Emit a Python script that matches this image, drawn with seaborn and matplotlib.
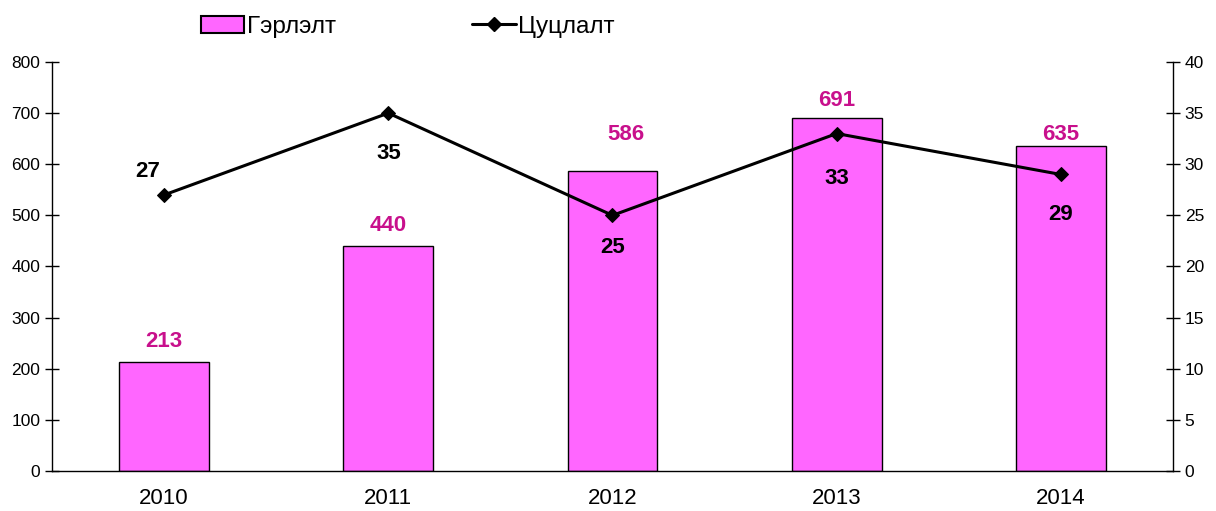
import numpy as np
import pandas as pd
import seaborn as sns
import matplotlib.pyplot as plt
from matplotlib.lines import Line2D
from matplotlib.patches import Patch

years = ['2010', '2011', '2012', '2013', '2014']
marriages = [213, 440, 586, 691, 635]   # Гэрлэлт
divorces = [27, 35, 25, 33, 29]         # Цуцлалт

# label offsets in points (dx, dy)
bar_off = [(0, 7), (0, 7), (10, 19), (0, 5), (0, 1)]
line_off = [(-12, 17), (0, -29), (0, -23), (0, -32), (0, -29)]

sns.set_style('white')
plt.rcParams['font.family'] = ['Liberation Sans', 'DejaVu Sans']
plt.rcParams['text.color'] = 'black'
plt.rcParams['xtick.color'] = 'black'
plt.rcParams['ytick.color'] = 'black'

df = pd.DataFrame({'year': years, 'marriages': marriages, 'divorces': divorces})

fig = plt.figure(figsize=(12.16, 5.11), dpi=100)
ax = fig.add_axes([0.0428, 0.0783, 0.9218, 0.8004])

sns.barplot(data=df, x='year', y='marriages', color='#FF66FF', saturation=1,
            edgecolor='black', linewidth=1, width=0.4, ax=ax)
ax.set_xlim(-0.5, 4.5)
ax.set_ylim(0, 800)
ax.set_yticks(range(0, 801, 100))
ax.set_xlabel('')
ax.set_ylabel('')
ax.tick_params(axis='x', length=0, labelsize=16, pad=12)
ax.set_xticks(np.arange(0.5, 4.5, 1), minor=True)
ax.tick_params(axis='x', which='minor', length=10, direction='inout', width=1)
ax.tick_params(axis='y', length=10, direction='inout', width=1, labelsize=12.5)
for s in ['top', 'right']:
    ax.spines[s].set_visible(False)
for s in ['left', 'bottom']:
    ax.spines[s].set_color('black')
    ax.spines[s].set_linewidth(1)

for i, v in enumerate(marriages):
    ax.annotate(str(v), (i, v), xytext=bar_off[i], textcoords='offset points',
                ha='center', va='bottom', color='#C8108C', fontsize=16, fontweight='bold')

ax2 = ax.twinx()
sns.lineplot(x=np.arange(len(years)), y=divorces, color='black', marker='D',
             markersize=7, markeredgecolor='black', linewidth=2.2, ax=ax2)
ax2.set_ylim(0, 40)
ax2.set_yticks(range(0, 41, 5))
ax2.tick_params(axis='y', length=10, direction='inout', width=1, labelsize=12.5)
for s in ['top', 'left', 'bottom']:
    ax2.spines[s].set_visible(False)
ax2.spines['right'].set_color('black')
ax2.spines['right'].set_linewidth(1)

for i, v in enumerate(divorces):
    ax2.annotate(str(v), (i, v), xytext=line_off[i], textcoords='offset points',
                 ha='center', va='center', color='black', fontsize=16, fontweight='bold')

handles = [Patch(facecolor='#FF66FF', edgecolor='black', linewidth=1.5),
           Line2D([0], [0], color='black', linewidth=2.2, marker='D', markersize=7)]
fig.legend(handles, ['Гэрлэлт', 'Цуцлалт'], loc='upper left', bbox_to_anchor=(0.147, 1.012),
           ncol=2, frameon=False, fontsize=17.5, columnspacing=5.6, handlelength=1.8,
           handletextpad=0.1)

fig.savefig('out.png', dpi=100)
